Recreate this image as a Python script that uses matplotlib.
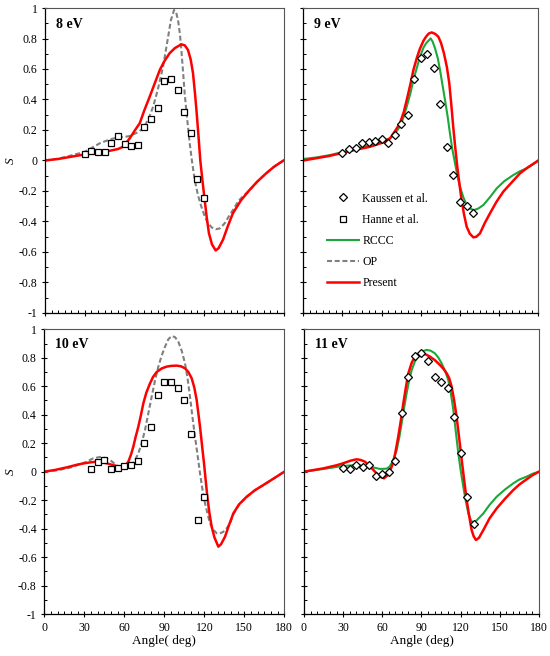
import matplotlib
matplotlib.use("Agg")
import matplotlib.pyplot as plt
from matplotlib.ticker import MultipleLocator, FuncFormatter
from matplotlib.lines import Line2D

plt.rcParams['font.family'] = ['Liberation Serif', 'DejaVu Serif']
plt.rcParams['axes.unicode_minus'] = False

# ---------------- data ----------------
# 8 eV
ang_8_present = [0, 10, 20, 30, 40, 49, 55, 59, 64, 68, 71.5, 75, 79, 83, 86.6, 90, 94, 98, 102.9,
                 105.5, 107.9, 110, 111.7, 113.3, 114.7, 116, 117.2, 118.8, 120.5, 122, 123.7, 126,
                 128.8, 131, 134.3, 138, 141.8, 148, 154.4, 160, 166.9, 173, 180]
s_8_present = [0, 0.01, 0.025, 0.04, 0.05, 0.064, 0.075, 0.09, 0.146, 0.2, 0.244, 0.33, 0.418, 0.51,
               0.593, 0.65, 0.703, 0.737, 0.762, 0.755, 0.725, 0.66, 0.572, 0.43, 0.287, 0.14, 0,
               -0.13, -0.259, -0.37, -0.477, -0.55, -0.59, -0.575, -0.52, -0.43, -0.346, -0.26,
               -0.193, -0.14, -0.084, -0.04, 0]
ang_8_op = [0, 10, 16.3, 25, 30.1, 41.4, 48, 54, 60, 63.9, 70, 74, 78, 81.6, 85, 89.1, 92.9, 95, 97.4,
            99, 100.4, 101.8, 102.9, 104.2, 105.4, 107.3, 109.2, 111, 113, 115.5, 118, 120.5, 123,
            126, 128.8, 132, 135.6, 138.5, 141.8, 146, 150, 155, 160, 167, 173, 180]
s_8_op = [0, 0.012, 0.025, 0.045, 0.058, 0.113, 0.135, 0.15, 0.155, 0.16, 0.185, 0.21, 0.27, 0.353,
          0.46, 0.615, 0.81, 0.92, 0.987, 0.97, 0.92, 0.83, 0.725, 0.58, 0.44, 0.27, 0.113, -0.01,
          -0.128, -0.23, -0.303, -0.365, -0.412, -0.44, -0.451, -0.445, -0.412, -0.37, -0.325,
          -0.265, -0.23, -0.19, -0.14, -0.084, -0.04, 0]
ang_8_hanne = [30, 35, 40, 45, 50, 55, 60, 65, 70, 75, 80, 85, 90, 95, 100, 105, 110, 115, 120]
s_8_hanne = [0.043, 0.062, 0.058, 0.058, 0.113, 0.161, 0.105, 0.096, 0.102, 0.217, 0.272, 0.342,
             0.521, 0.532, 0.46, 0.318, 0.183, -0.124, -0.249]

# 9 eV
ang_9_rccc = [0, 10, 20, 30, 40, 51, 60, 66.4, 70, 74, 77, 79.2, 82, 84.3, 87, 89.4, 92, 94, 97.5, 99,
              100.9, 103, 104.7, 106.5, 108.5, 110.5, 112.3, 114, 116.2, 118, 120, 122.5, 125.1,
              127.5, 130.7, 134, 137.9, 143, 148.1, 154, 160.9, 166, 171.1, 176, 180]
s_9_rccc = [0.01, 0.02, 0.035, 0.055, 0.075, 0.102, 0.125, 0.145, 0.175, 0.222, 0.29, 0.353, 0.44,
            0.528, 0.61, 0.681, 0.74, 0.768, 0.801, 0.78, 0.735, 0.67, 0.593, 0.5, 0.397, 0.29,
            0.178, 0.08, -0.019, -0.1, -0.172, -0.24, -0.292, -0.315, -0.325, -0.315, -0.292,
            -0.24, -0.183, -0.135, -0.095, -0.07, -0.051, -0.025, 0]
ang_9_present = [0, 10, 20, 30, 40, 51.1, 60, 66.4, 70, 74, 77, 79.2, 82, 84.3, 87, 89.4, 92, 94, 96,
                 98.3, 101, 103.4, 105.5, 107.7, 110, 111.8, 113.3, 114.8, 116.3, 117.9, 119.5,
                 121.2, 123, 125.1, 127.5, 130.2, 132.5, 135.3, 139, 143, 148, 153.2, 160, 166,
                 172, 180]
s_9_present = [0, 0.015, 0.03, 0.05, 0.07, 0.09, 0.115, 0.145, 0.19, 0.244, 0.32, 0.397, 0.5, 0.593,
               0.675, 0.735, 0.785, 0.812, 0.832, 0.84, 0.83, 0.812, 0.77, 0.703, 0.61, 0.506,
               0.37, 0.222, 0.09, -0.04, -0.15, -0.259, -0.35, -0.434, -0.48, -0.504, -0.5,
               -0.478, -0.41, -0.346, -0.27, -0.204, -0.14, -0.084, -0.045, 0]
ang_9_kaussen = [30, 35, 40, 45, 50, 55, 60, 65, 70, 75, 80, 85, 90, 95, 100, 105, 110, 115, 120,
                 125, 130]
s_9_kaussen = [0.051, 0.073, 0.084, 0.113, 0.124, 0.126, 0.139, 0.117, 0.168, 0.238, 0.299, 0.536,
               0.671, 0.7, 0.606, 0.373, 0.091, -0.095, -0.273, -0.299, -0.347]

# 10 eV
ang_10_present = [0, 8, 16.75, 25, 30, 35, 39, 43, 46.75, 50, 54, 57, 59, 61, 63, 65, 66.75, 68.5,
                  70.5, 72.5, 74.25, 76.5, 79.25, 81.5, 84.25, 88, 91.75, 95, 99.25, 102.5, 105.5,
                  108, 110.5, 112.5, 114.25, 115.5, 116.75, 118.2, 119.75, 121, 122.25, 123.8,
                  125.5, 127.5, 130.5, 132.5, 135.5, 138.5, 141.75, 146, 151.75, 158, 164.25,
                  172, 180]
s_10_present = [0, 0.012, 0.03, 0.05, 0.059, 0.066, 0.07, 0.066, 0.059, 0.05, 0.04, 0.034, 0.035,
                0.045, 0.07, 0.12, 0.176, 0.245, 0.316, 0.4, 0.48, 0.555, 0.62, 0.665, 0.7, 0.725,
                0.738, 0.743, 0.745, 0.74, 0.726, 0.7, 0.656, 0.59, 0.503, 0.41, 0.316, 0.19,
                0.059, -0.06, -0.176, -0.29, -0.386, -0.46, -0.527, -0.51, -0.457, -0.375,
                -0.293, -0.23, -0.176, -0.13, -0.094, -0.048, 0]
ang_10_op = [0, 10, 20, 30, 36.75, 43, 49.25, 55.5, 60.5, 65.5, 68, 70.5, 73, 75.5, 78, 80.5, 83,
             85.5, 88, 90.5, 93, 95.5, 98, 100.5, 103, 105.5, 107.5, 109.25, 111, 113, 115, 116.75,
             118.5, 120.5, 122.5, 124.25, 126.5, 129.25, 131.5, 134.25, 137, 139.25, 141.75, 146,
             151.75, 158, 164.25, 172, 180]
s_10_op = [0, 0.01, 0.03, 0.063, 0.094, 0.105, 0.082, 0.035, 0.023, 0.047, 0.08, 0.129, 0.2, 0.293,
           0.41, 0.527, 0.64, 0.738, 0.815, 0.878, 0.93, 0.953, 0.945, 0.913, 0.85, 0.761, 0.65,
           0.527, 0.39, 0.246, 0.11, -0.012, -0.12, -0.222, -0.3, -0.363, -0.405, -0.433, -0.435,
           -0.422, -0.395, -0.363, -0.3, -0.232, -0.178, -0.13, -0.094, -0.048, 0]
ang_10_hanne = [35, 40, 45, 50, 55, 60, 65, 70, 75, 80, 85, 90, 95, 100, 105, 110, 115, 120]
s_10_hanne = [0.016, 0.07, 0.08, 0.021, 0.028, 0.04, 0.047, 0.073, 0.204, 0.311, 0.541, 0.628,
              0.632, 0.59, 0.501, 0.265, -0.337, -0.176]

# 11 eV
ang_11_rccc = [0, 14.8, 30, 40.3, 50.5, 58.2, 63.3, 65.5, 67.1, 69, 71, 73, 74.8, 76.7, 78.6, 80.5,
               82.5, 85, 87.6, 90.5, 93.9, 97, 100.3, 103, 105.4, 108, 110.5, 112.5, 114.4, 116.3,
               118.2, 120, 122, 124, 125.9, 127.8, 129.7, 133, 137.4, 142, 147.6, 154, 160.3, 165,
               170.5, 175, 180]
s_11_rccc = [0, 0.019, 0.04, 0.047, 0.035, 0.019, 0.021, 0.035, 0.059, 0.1, 0.152, 0.24, 0.34, 0.45,
             0.55, 0.64, 0.714, 0.775, 0.82, 0.845, 0.855, 0.85, 0.831, 0.8, 0.761, 0.71, 0.644,
             0.55, 0.433, 0.28, 0.129, 0.01, -0.105, -0.21, -0.293, -0.34, -0.363, -0.335, -0.293,
             -0.235, -0.176, -0.125, -0.082, -0.055, -0.035, -0.015, 0]
ang_11_present = [0, 14.8, 25, 30, 36, 40.3, 43.5, 46.7, 50, 53.1, 56, 58.2, 61.3, 63.5, 65.4, 67.2,
                  68.9, 70.5, 72.2, 74.2, 76.1, 78, 79.9, 82.5, 85, 87.5, 90.1, 93, 96.5, 100,
                  104.2, 107, 109.3, 111.3, 113.1, 115, 116.9, 118.8, 120.8, 122.7, 124.6, 126.5,
                  128.4, 130, 131.7, 134, 137.4, 142, 147.6, 154, 160.3, 165, 170.5, 175, 180]
s_11_present = [0, 0.023, 0.045, 0.059, 0.078, 0.087, 0.082, 0.07, 0.042, 0.012, -0.015, -0.035,
                -0.047, -0.03, 0, 0.035, 0.082, 0.16, 0.246, 0.36, 0.48, 0.59, 0.69, 0.765, 0.808,
                0.825, 0.831, 0.825, 0.808, 0.785, 0.749, 0.72, 0.691, 0.655, 0.597, 0.5, 0.386,
                0.24, 0.082, -0.06, -0.199, -0.31, -0.41, -0.455, -0.48, -0.465, -0.41, -0.33,
                -0.258, -0.19, -0.129, -0.09, -0.054, -0.025, 0]
ang_11_kaussen = [30, 35, 40, 45, 50, 55, 60, 65, 70, 75, 80, 85, 90, 95, 100, 105, 110, 115, 120,
                  125, 130]
s_11_kaussen = [0.023, 0.019, 0.049, 0.035, 0.044, -0.028, -0.016, -0.005, 0.077, 0.41, 0.667,
                0.813, 0.836, 0.778, 0.663, 0.632, 0.585, 0.384, 0.129, -0.176, -0.368]

energies = ['8 eV', '9 eV', '10 eV', '11 eV']

RED = '#ff0000'
GREEN = '#1aa83a'
GRAY = '#808080'
DASH = (2.4, 1.3)

fig = plt.figure(figsize=(5.5, 6.56), dpi=100)
# [left, bottom, width, height]
pos = [[0.0818, 0.5229, 0.4337, 0.4649],
       [0.5515, 0.5229, 0.4273, 0.4649],
       [0.0806, 0.0640, 0.4364, 0.4340],
       [0.5527, 0.0640, 0.4273, 0.4340]]
axes = [fig.add_axes(p) for p in pos]


def style(ax, show_x, show_y):
    ax.set_xlim(0, 180)
    ax.set_ylim(-1, 1)
    ax.xaxis.set_major_locator(MultipleLocator(30))
    ax.xaxis.set_minor_locator(MultipleLocator(5))
    ax.yaxis.set_major_locator(MultipleLocator(0.2))
    ax.yaxis.set_minor_locator(MultipleLocator(0.1))
    ax.tick_params(which='major', direction='inout', length=5, width=0.8, labelsize=8.5,
                   top=False, right=False, pad=3)
    ax.tick_params(which='minor', direction='in', length=2.5, width=0.7, top=False, right=False)
    ax.yaxis.set_major_formatter(FuncFormatter(lambda v, p: '%g' % round(v, 1)))
    if not show_x:
        ax.tick_params(labelbottom=False)
    if not show_y:
        ax.tick_params(labelleft=False)
    for side in ['left', 'bottom']:
        ax.spines[side].set_color('black')
        ax.spines[side].set_linewidth(0.9)
    for side in ['top', 'right']:
        ax.spines[side].set_color('#555555')
        ax.spines[side].set_linewidth(0.8)


ms_sq = dict(marker='s', ls='none', ms=5, mfc='white', mec='black', mew=0.9)
ms_di = dict(marker='D', ls='none', ms=4.3, mfc='white', mec='black', mew=0.9)

ax = axes[0]
ax.plot(ang_8_op, s_8_op, color=GRAY, lw=1.5, dashes=DASH)
ax.plot(ang_8_present, s_8_present, color=RED, lw=1.8)
ax.plot(ang_8_hanne, s_8_hanne, **ms_sq)

ax = axes[1]
ax.plot(ang_9_rccc, s_9_rccc, color=GREEN, lw=1.5)
ax.plot(ang_9_present, s_9_present, color=RED, lw=1.8)
ax.plot(ang_9_kaussen, s_9_kaussen, **ms_di)

ax = axes[2]
ax.plot(ang_10_op, s_10_op, color=GRAY, lw=1.5, dashes=DASH)
ax.plot(ang_10_present, s_10_present, color=RED, lw=1.8)
ax.plot(ang_10_hanne, s_10_hanne, **ms_sq)

ax = axes[3]
ax.plot(ang_11_rccc, s_11_rccc, color=GREEN, lw=1.5)
ax.plot(ang_11_present, s_11_present, color=RED, lw=1.8)
ax.plot(ang_11_kaussen, s_11_kaussen, **ms_di)

style(axes[0], False, True)
style(axes[1], False, False)
style(axes[2], True, True)
style(axes[3], True, False)

for ax, lab in zip(axes, energies):
    ax.text(0.045, 0.945, lab, transform=ax.transAxes, fontsize=10, fontweight='bold',
            va='center', ha='left')

for ax in (axes[0], axes[2]):
    ax.set_ylabel('S', fontsize=9.5, style='italic', labelpad=1)
axes[2].set_xlabel('Angle( deg)', fontsize=9.5, labelpad=1)
axes[3].set_xlabel('Angle (deg)', fontsize=9.5, labelpad=1)

handles = [Line2D([], [], **ms_di),
           Line2D([], [], **ms_sq),
           Line2D([], [], color=GREEN, lw=1.5),
           Line2D([], [], color=GRAY, lw=1.5, dashes=DASH),
           Line2D([], [], color=RED, lw=1.8)]
labels = ['Kaussen et al.', 'Hanne et al.', 'RCCC', 'OP', 'Present']
axes[1].legend(handles, labels, loc='upper left', bbox_to_anchor=(0.1, 0.395), frameon=False,
               fontsize=8.5, handlelength=2.7, handletextpad=0.3, labelspacing=0.78,
               borderpad=0, borderaxespad=0)

fig.savefig('out.png', dpi=100)
